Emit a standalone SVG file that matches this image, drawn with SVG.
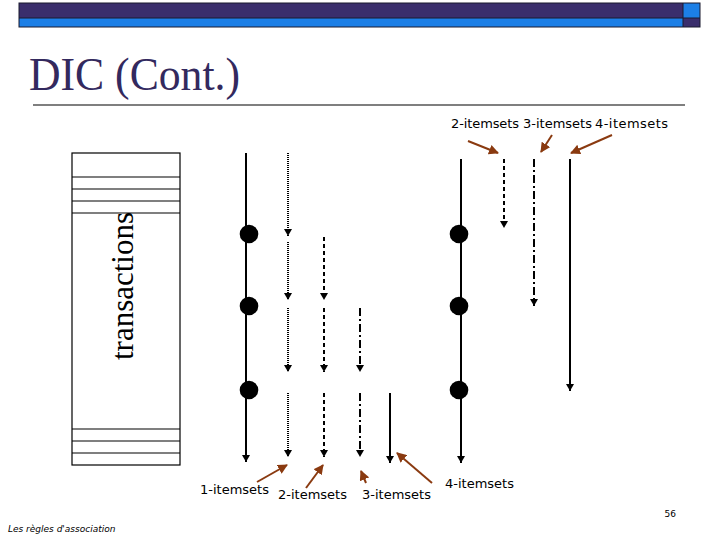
<svg xmlns="http://www.w3.org/2000/svg" width="720" height="540" viewBox="0 0 720 540">
<style>
.lbl{font-family:"DejaVu Sans","Liberation Sans",sans-serif;font-size:13px;fill:#000}
.ln{stroke:#000;stroke-width:2;fill:none}
.dot{stroke-dasharray:1 1}
.dash{stroke-dasharray:4 3}
.dd{stroke-dasharray:8 3 2 3}
.br{stroke:#8a3a10;stroke-width:2;fill:none}
.tr{stroke:#000;stroke-width:1.2;fill:none}
</style>
<defs>
<marker id="ah" markerWidth="8" markerHeight="7" refX="4" refY="7" orient="0" markerUnits="userSpaceOnUse" viewBox="0 0 8 7">
<path d="M0,0 L8,0 L4,7 Z" fill="#000"/>
</marker>
<marker id="bh" markerWidth="10" markerHeight="10" refX="9" refY="5" orient="auto" markerUnits="userSpaceOnUse" viewBox="0 0 10 10">
<path d="M0,0 L10,5 L0,10 Z" fill="#8a3a10"/>
</marker>
</defs>
<g id="header">
<rect x="19" y="3" width="664" height="15" fill="#3a2e6c"/>
<rect x="19" y="18" width="664" height="9" fill="#1c7fe6"/>
<rect x="683" y="3" width="17" height="15" fill="#1c7fe6"/>
<rect x="683" y="18" width="17" height="9" fill="#3a2e6c"/>
<rect x="19" y="3" width="681" height="24" fill="none" stroke="#1a1a2e" stroke-width="1"/>
<line x1="19" y1="18" x2="700" y2="18" stroke="#1a1a2e" stroke-width="1"/>
<line x1="683" y1="3" x2="683" y2="27" stroke="#1a1a2e" stroke-width="1"/>
</g>
<g id="title">
<text x="29" y="90" font-family="Liberation Serif,serif" font-size="46" fill="#33295e" textLength="211" lengthAdjust="spacingAndGlyphs">DIC (Cont.)</text>
<line x1="33" y1="105" x2="685" y2="105" stroke="#000" stroke-width="1.2"/>
</g>
<g id="transactions">
<rect x="72" y="153" width="108" height="312" class="tr"/>
<line x1="72" y1="177" x2="180" y2="177" class="tr"/>
<line x1="72" y1="189" x2="180" y2="189" class="tr"/>
<line x1="72" y1="201" x2="180" y2="201" class="tr"/>
<line x1="72" y1="213" x2="180" y2="213" class="tr"/>
<line x1="72" y1="429" x2="180" y2="429" class="tr"/>
<line x1="72" y1="441" x2="180" y2="441" class="tr"/>
<line x1="72" y1="453" x2="180" y2="453" class="tr"/>
<text transform="translate(133,286) rotate(-90)" text-anchor="middle" font-family="Liberation Serif,serif" font-size="31" fill="#000">transactions</text>
</g>
<g id="connectors">
<line x1="246" y1="153" x2="246" y2="462" class="ln" marker-end="url(#ah)"/>
<line x1="288" y1="153" x2="288" y2="236" class="ln dot" marker-end="url(#ah)"/>
<line x1="288" y1="242" x2="288" y2="300" class="ln dot" marker-end="url(#ah)"/>
<line x1="288" y1="308" x2="288" y2="372" class="ln dot" marker-end="url(#ah)"/>
<line x1="288" y1="393" x2="288" y2="457" class="ln dot" marker-end="url(#ah)"/>
<line x1="324" y1="237" x2="324" y2="300" class="ln dash" marker-end="url(#ah)"/>
<line x1="324" y1="308" x2="324" y2="372" class="ln dash" marker-end="url(#ah)"/>
<line x1="324" y1="393" x2="324" y2="457" class="ln dash" marker-end="url(#ah)"/>
<line x1="360" y1="308" x2="360" y2="372" class="ln dd" marker-end="url(#ah)"/>
<line x1="360" y1="393" x2="360" y2="457" class="ln dd" marker-end="url(#ah)"/>
<line x1="390" y1="393" x2="390" y2="463" class="ln" marker-end="url(#ah)"/>
<line x1="461" y1="159" x2="461" y2="463" class="ln" marker-end="url(#ah)"/>
<line x1="504" y1="159" x2="504" y2="228" class="ln dash" marker-end="url(#ah)"/>
<line x1="534" y1="159" x2="534" y2="306" class="ln dd" marker-end="url(#ah)"/>
<line x1="570" y1="159" x2="570" y2="391" class="ln" marker-end="url(#ah)"/>
<line x1="468" y1="141" x2="498" y2="153" class="br" marker-end="url(#bh)"/>
<line x1="552" y1="135" x2="541" y2="152" class="br" marker-end="url(#bh)"/>
<line x1="612" y1="135" x2="571" y2="153" class="br" marker-end="url(#bh)"/>
<line x1="257" y1="482" x2="287" y2="465" class="br" marker-end="url(#bh)"/>
<line x1="306" y1="488" x2="323" y2="465" class="br" marker-end="url(#bh)"/>
<line x1="366" y1="483" x2="361" y2="471" class="br" marker-end="url(#bh)"/>
<line x1="432" y1="483" x2="397" y2="453" class="br" marker-end="url(#bh)"/>
</g>
<g id="dots">
<circle cx="249" cy="234" r="9.3" fill="#000"/>
<circle cx="249" cy="306" r="9.3" fill="#000"/>
<circle cx="249" cy="390" r="9.3" fill="#000"/>
<circle cx="459" cy="234" r="9.3" fill="#000"/>
<circle cx="459" cy="306" r="9.3" fill="#000"/>
<circle cx="459" cy="390" r="9.3" fill="#000"/>
</g>
<g id="labels">
<text x="451" y="128" class="lbl" textLength="68">2-itemsets</text>
<text x="523" y="128" class="lbl" textLength="69">3-itemsets</text>
<text x="595" y="128" class="lbl" textLength="73">4-itemsets</text>
<text x="200" y="494" class="lbl">1-itemsets</text>
<text x="278" y="499" class="lbl">2-itemsets</text>
<text x="362" y="499" class="lbl">3-itemsets</text>
<text x="445" y="488" class="lbl">4-itemsets</text>
</g>
<g id="footer">
<text x="676" y="517" text-anchor="end" font-family="DejaVu Sans,sans-serif" font-size="9" fill="#000">56</text>
<text x="8" y="532" font-family="DejaVu Sans,sans-serif" font-size="9" font-style="italic" fill="#000">Les règles d'association</text>
</g>
</svg>
